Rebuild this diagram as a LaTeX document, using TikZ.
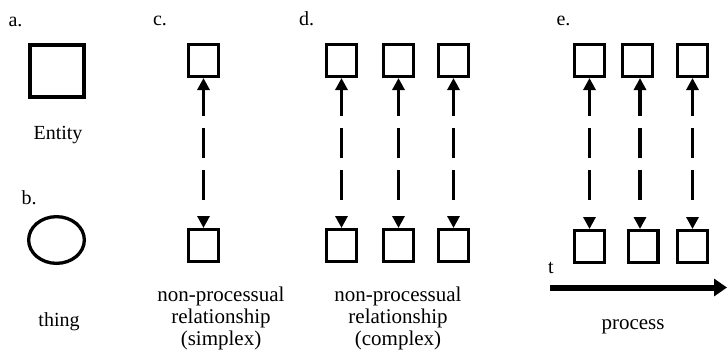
\documentclass[tikz,border=0pt]{standalone}
\usepackage{fontspec}
\setmainfont{Liberation Serif}
\usetikzlibrary{arrows.meta,shapes.geometric}

\tikzset{
  lbl/.style={font=\fontsize{20}{22}\selectfont, inner sep=0pt, anchor=base},
  caption/.style={font=\fontsize{21}{22}\selectfont, inner sep=0pt, anchor=north, align=center},
  bigbox/.style={draw, line width=3.8pt, minimum width=54.2pt, minimum height=52.2pt, inner sep=0pt},
  thingshape/.style={draw, ellipse, line width=3.3pt, minimum width=55.7pt, minimum height=46.7pt, inner sep=0pt},
  smallbox/.style={draw, line width=3.3pt, minimum width=29.7pt, minimum height=31.7pt, inner sep=0pt},
  link/.style={line width=3.6pt, {Triangle[length=12pt,width=12pt]}-{Triangle[length=12pt,width=12pt]},
    dash pattern=on 27pt off 12pt on 30pt off 12pt on 30pt off 40pt},
  timeline/.style={line width=6pt, -{Triangle[length=13pt,width=17pt]}}
}

\begin{document}
\begin{tikzpicture}[x=1pt,y=-1pt]
\useasboundingbox (0,0) rectangle (727,354);

% a. entity
\node[lbl] (la) at (15.5,26) {a.};
\node[bigbox] (entity) at (57,71) {};
\node[lbl] (lentity) at (58,139) {Entity};

% b. thing
\node[lbl] (lb) at (29,204) {b.};
\node[thingshape] (thing) at (56.5,240) {};
\node[lbl] (lthing) at (59,326) {thing};

% c. simplex relationship
\node[lbl] (lc) at (160,25) {c.};
\node[smallbox] (ct) at (203.5,60.5) {};
\node[smallbox] (cb) at (203.5,245.5) {};
\draw[link] (ct.south) -- (cb.north);
\node[caption] (capc) at (221,287) {non-processual\\relationship\\(simplex)};

% d. complex relationship
\node[lbl] (ld) at (306.5,25) {d.};
\foreach \i/\x in {1/341.5,2/398.5,3/453.5}{
  \node[smallbox] (dt\i) at (\x,60.5) {};
  \node[smallbox] (db\i) at (\x,245.5) {};
  \draw[link] (dt\i.south) -- (db\i.north);
}
\node[caption] (capd) at (398,287) {non-processual\\relationship\\(complex)};

% e. process
\node[lbl] (le) at (563.5,25) {e.};
\node[smallbox] (et1) at (589.5,60.5) {};
\node[smallbox] (et2) at (637.5,60.5) {};
\node[smallbox] (et3) at (692.5,60.5) {};
\node[smallbox] (eb1) at (589.5,246.5) {};
\node[smallbox] (eb2) at (643,246.5) {};
\node[smallbox] (eb3) at (692.5,246.5) {};
\coordinate (m2) at (640,0);
\draw[link] (et1.south) -- (eb1.north);
\draw[link] (et2.south -| m2) -- (eb2.north -| m2);
\draw[link] (et3.south) -- (eb3.north);

\node[lbl] (lt) at (551,273) {t};
\coordinate (tstart) at (550,287.5);
\coordinate (tend) at (727,287.5);
\draw[timeline] (tstart) -- (tend);
\node[caption, anchor=base] (lproc) at (633,329) {process};
\end{tikzpicture}
\end{document}
